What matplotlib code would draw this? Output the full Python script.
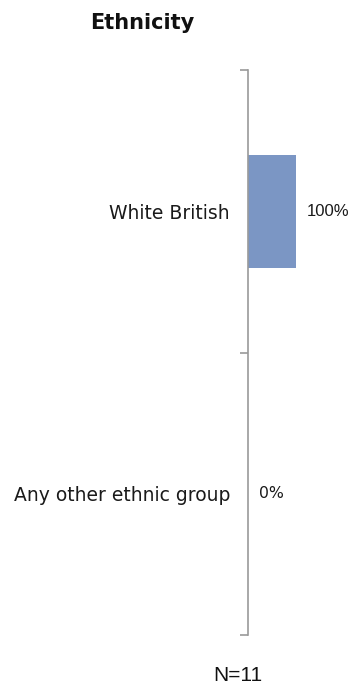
import matplotlib
matplotlib.use("Agg")
import matplotlib.pyplot as plt
import numpy as np

categories = ["White British", "Any other ethnic group"]
values = [100, 0]
value_labels = ["100%", "0%"]
title = "Ethnicity"
footnote = "N=11"

# per-label font styling for the value annotations
label_fonts = [("Liberation Sans", 12), ("DejaVu Sans", 11.3)]

W, H = 357, 690
fig = plt.figure(figsize=(W / 100, H / 100), dpi=100)

# plot area: axis spine on the left, category bands stacked top to bottom
left, right = 248, 296
top, bottom = 70, 635
ax = fig.add_axes([left / W, 1 - bottom / H, (right - left) / W, (bottom - top) / H])

n = len(categories)
pos = np.arange(n) + 0.5
ax.barh(pos, values, height=0.4, color="#7b96c4", edgecolor="none")
ax.set_xlim(0, 100)
ax.set_ylim(n, 0)

for spine in ("top", "right", "bottom"):
    ax.spines[spine].set_visible(False)
ax.spines["left"].set_color("#9a9a9a")
ax.spines["left"].set_linewidth(1.2)

ax.set_xticks([])
ax.set_yticks(np.arange(n + 1))
ax.set_yticklabels([])
ax.tick_params(axis="y", which="major", length=6, color="#9a9a9a", width=1.2)
ax.set_yticks(pos, minor=True)
ax.set_yticklabels(categories, minor=True, fontsize=13.5, color="#1a1a1a")
ax.tick_params(axis="y", which="minor", length=0, pad=13)

for p, v, lab, (fam, fs) in zip(pos, values, value_labels, label_fonts):
    ax.annotate(lab, xy=(v, p), xytext=(8, 0), textcoords="offset points",
                ha="left", va="center", fontsize=fs, color="#1a1a1a",
                family=fam, annotation_clip=False)

fig.text(142.5 / W, 1 - 23 / H, title, ha="center", va="center",
         fontsize=15, fontweight="bold", color="#111111")
fig.text(238 / W, 1 - 675.5 / H, footnote, ha="center", va="center",
         fontsize=15, color="#111111", family="Liberation Sans")

fig.savefig("out.png", dpi=100)
